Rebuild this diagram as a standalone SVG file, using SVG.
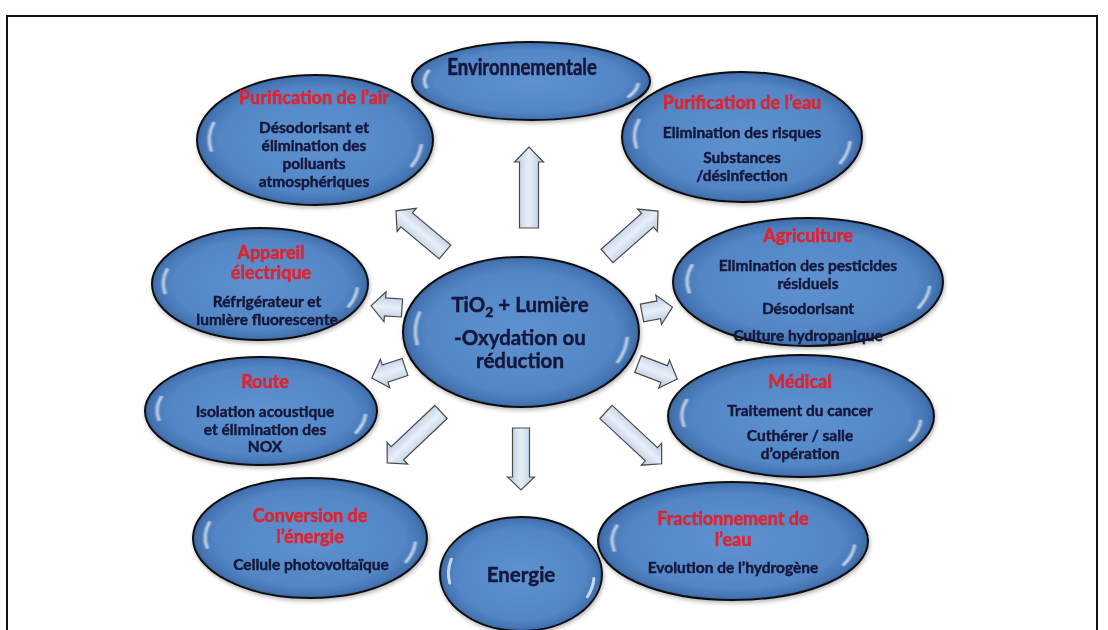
<svg xmlns="http://www.w3.org/2000/svg" xmlns:xlink="http://www.w3.org/1999/xlink" width="1108" height="630" viewBox="0 0 1108 630">
<style>
  .t { font-family: Lato, "Open Sans", "Liberation Sans", sans-serif; font-weight: bold; text-anchor: middle; stroke-width: 0.45; paint-order: stroke; }
  .b { fill: #15183a; stroke: #15183a; font-size: 15.5px; }
  .r { fill: #e3202b; stroke: #e3202b; font-size: 18px; }
  .c { fill: #15183a; stroke: #15183a; font-size: 20.5px; }
  .arr { fill: url(#ag); stroke: #4a4a4a; stroke-width: 1.2; stroke-linejoin: miter; }
</style>
<defs>
  <radialGradient id="eg" cx="0.5" cy="0.5" r="0.5">
    <stop offset="0" stop-color="#5e91d0"/>
    <stop offset="0.8" stop-color="#5386c5"/>
    <stop offset="0.95" stop-color="#4574b3"/>
    <stop offset="1" stop-color="#3a67a3"/>
  </radialGradient>
  <linearGradient id="ag" x1="0" y1="0" x2="0" y2="1">
    <stop offset="0" stop-color="#b7c9e2"/>
    <stop offset="0.5" stop-color="#e8eff8"/>
    <stop offset="1" stop-color="#b2c4de"/>
  </linearGradient>
  <filter id="sh" x="-20%" y="-20%" width="140%" height="140%">
    <feGaussianBlur in="SourceAlpha" stdDeviation="2"/>
    <feOffset dx="1" dy="2"/>
    <feComponentTransfer><feFuncA type="linear" slope="0.3"/></feComponentTransfer>
    <feMerge><feMergeNode/><feMergeNode in="SourceGraphic"/></feMerge>
  </filter>
  <filter id="gl" x="-50%" y="-50%" width="200%" height="200%">
    <feGaussianBlur stdDeviation="0.8"/>
  </filter>
  <g id="bubble">
    <circle r="100" fill="url(#eg)" stroke="#111" stroke-width="2" vector-effect="non-scaling-stroke"/>
    <g filter="url(#gl)">
      <path d="M -86 -26 A 90 90 0 0 0 -88 16" fill="none" stroke="#ffffff" stroke-opacity="0.7" stroke-width="3" stroke-linecap="round" vector-effect="non-scaling-stroke"/>
      <path d="M 90 8 A 91 91 0 0 1 82 40" fill="none" stroke="#ffffff" stroke-opacity="0.7" stroke-width="3" stroke-linecap="round" vector-effect="non-scaling-stroke"/>
    </g>
  </g>
</defs>
<rect width="1108" height="630" fill="#ffffff"/>
<path d="M 7 640 L 7 16 L 1097 16 L 1097 640" fill="none" stroke="#111" stroke-width="2"/>

<g id="connectors">
  <polygon class="arr" transform="translate(529,228) rotate(-90)" points="0,-9.5 66,-9.5 66,-14.5 81,0 66,14.5 66,9.5 0,9.5"/>
  <polygon class="arr" transform="translate(521,428) rotate(90)" points="0,-8.5 49,-8.5 49,-13.5 62,0 49,13.5 49,8.5 0,8.5"/>
  <polygon class="arr" transform="translate(445,252) rotate(-140)" points="0,-9 50,-9 50,-15 64,0 50,15 50,9 0,9"/>
  <polygon class="arr" transform="translate(607,256) rotate(-41.4)" points="0,-9 54,-9 54,-15 68,0 54,15 54,9 0,9"/>
  <polygon class="arr" transform="translate(402,308) rotate(184)" points="0,-9 17,-9 17,-15 31,0 17,15 17,9 0,9"/>
  <polygon class="arr" transform="translate(642,313) rotate(-11)" points="0,-9 17,-9 17,-15 31,0 17,15 17,9 0,9"/>
  <polygon class="arr" transform="translate(405,367) rotate(161.6)" points="0,-9 21,-9 21,-15 35,0 21,15 21,9 0,9"/>
  <polygon class="arr" transform="translate(638,364) rotate(21)" points="0,-9 28,-9 28,-15 42,0 28,15 28,9 0,9"/>
  <polygon class="arr" transform="translate(441,412) rotate(136.6)" points="0,-9 60,-9 60,-15 74,0 60,15 60,9 0,9"/>
  <polygon class="arr" transform="translate(606,412) rotate(42.9)" points="0,-9 62,-9 62,-15 76,0 62,15 62,9 0,9"/>
</g>

<g id="environnementale" filter="url(#sh)">
  <use xlink:href="#bubble" transform="translate(531,81) scale(1.19,0.39)"/>
  <text class="t" transform="translate(522,75) scale(1,1.25)" fill="#15183a" stroke="#15183a" font-size="18.5">Environnementale</text>
</g>

<g id="purification-air" filter="url(#sh)">
  <use xlink:href="#bubble" transform="translate(315,140) scale(1.18,0.65)"/>
  <text class="t r" x="314" y="104">Purification de l’air</text>
  <text class="t b" x="314" y="133">Désodorisant et</text>
  <text class="t b" x="314" y="151">élimination des</text>
  <text class="t b" x="314" y="169">polluants</text>
  <text class="t b" x="314" y="187">atmosphériques</text>
</g>

<g id="purification-eau" filter="url(#sh)">
  <use xlink:href="#bubble" transform="translate(742,137) scale(1.2,0.65)"/>
  <text class="t r" x="742" y="109">Purification de l’eau</text>
  <text class="t b" x="742" y="138">Elimination des risques</text>
  <text class="t b" x="742" y="163">Substances</text>
  <text class="t b" x="742" y="181">/désinfection</text>
</g>

<g id="appareil" filter="url(#sh)">
  <use xlink:href="#bubble" transform="translate(260,284) scale(1.08,0.56)"/>
  <text class="t r" x="271" y="259">Appareil</text>
  <text class="t r" x="271" y="279">électrique</text>
  <text class="t b" x="267" y="307">Réfrigérateur et</text>
  <text class="t b" x="267" y="325">lumière fluorescente</text>
</g>

<g id="route" filter="url(#sh)">
  <use xlink:href="#bubble" transform="translate(261,411) scale(1.16,0.54)"/>
  <text class="t r" x="265" y="388">Route</text>
  <text class="t b" x="265" y="417">Isolation acoustique</text>
  <text class="t b" x="265" y="435">et élimination des</text>
  <text class="t b" x="265" y="452">NOX</text>
</g>

<g id="conversion" filter="url(#sh)">
  <use xlink:href="#bubble" transform="translate(310,538) scale(1.17,0.6)"/>
  <text class="t r" x="310" y="522">Conversion de</text>
  <text class="t r" x="310" y="543">l’énergie</text>
  <text class="t b" x="311" y="570">Cellule photovoltaïque</text>
</g>

<g id="energie" filter="url(#sh)">
  <use xlink:href="#bubble" transform="translate(521,574) scale(0.81,0.57)"/>
  <text class="t c" x="521" y="582">Energie</text>
</g>

<g id="fractionnement" filter="url(#sh)">
  <use xlink:href="#bubble" transform="translate(733,541) scale(1.35,0.59)"/>
  <text class="t r" x="733" y="525">Fractionnement de</text>
  <text class="t r" x="733" y="546">l’eau</text>
  <text class="t b" x="733" y="573">Evolution de l’hydrogène</text>
</g>

<g id="medical" filter="url(#sh)">
  <use xlink:href="#bubble" transform="translate(801,416) scale(1.33,0.61)"/>
  <text class="t r" x="800" y="388">Médical</text>
  <text class="t b" x="800" y="416">Traitement du cancer</text>
  <text class="t b" x="800" y="441">Cuthérer / salle</text>
  <text class="t b" x="800" y="459">d’opération</text>
</g>

<g id="agriculture" filter="url(#sh)">
  <use xlink:href="#bubble" transform="translate(808,282) scale(1.35,0.64)"/>
  <text class="t r" x="808" y="242">Agriculture</text>
  <text class="t b" x="808" y="271">Elimination des pesticides</text>
  <text class="t b" x="808" y="289">résiduels</text>
  <text class="t b" x="808" y="314">Désodorisant</text>
  <text class="t b" x="808" y="341">Culture hydropanique</text>
</g>

<g id="center" filter="url(#sh)">
  <use xlink:href="#bubble" transform="translate(521,332) scale(1.18,0.75)"/>
  <text class="t c" x="520" y="312">TiO<tspan font-size="14" dy="5">2</tspan><tspan dy="-5"> + Lumière</tspan></text>
  <text class="t c" x="520" y="345">-Oxydation ou</text>
  <text class="t c" x="520" y="368">réduction</text>
</g>
</svg>
